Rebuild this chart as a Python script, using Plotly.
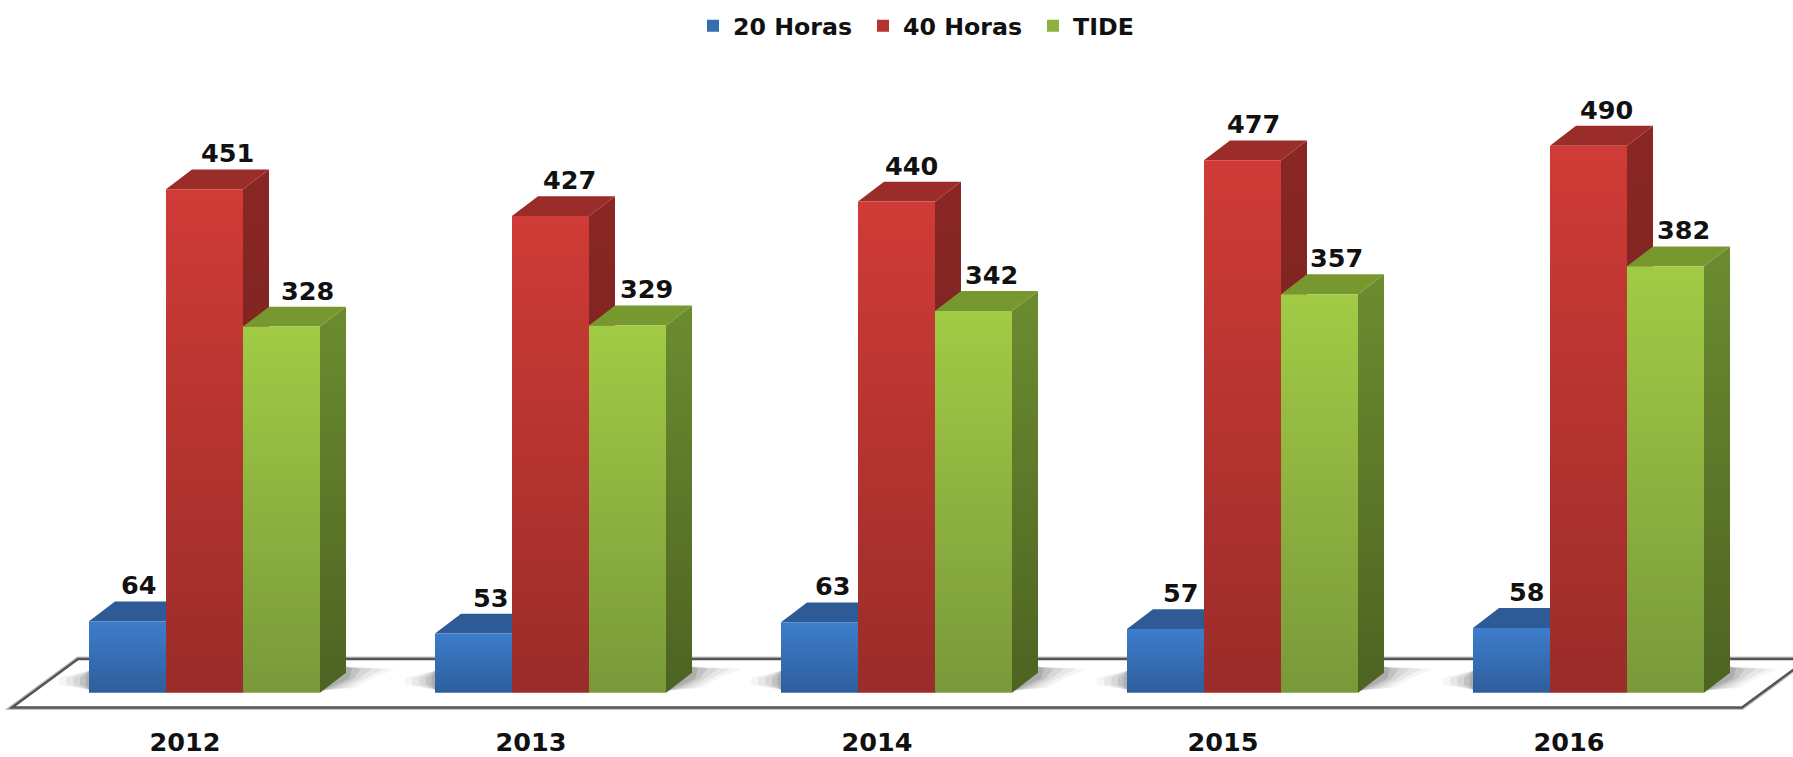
import plotly.graph_objects as go

YEARS = [2012, 2013, 2014, 2015, 2016]
SERIES_NAMES = ["20 Horas", "40 Horas", "TIDE"]
HORAS_20 = [64, 53, 63, 57, 58]
HORAS_40 = [451, 427, 440, 477, 490]
TIDE = [328, 329, 342, 357, 382]
SERIES_VALUES = [HORAS_20, HORAS_40, TIDE]

# label nudges (pixels)
LABEL_SHIFT = [
    [11, 17, 13, 15.5, 15],
    [23, 19, 15, 10.5, 18],
    [26, 18.5, 18, 17, 17.5],
]

# style
W, H = 1793, 757
PLOT_BOTTOM = 726
ZERO_PX = 697.5
PX_PER_UNIT = 1.124
BAND_PX = 346
FIRST_CENTER_PX = 185
BAR_PX = 77
BAR_LEFT_PX = [89, 166, 243]   # for the first category
DEPTH_X, DEPTH_Y = 26, 20
FONT = "DejaVu Sans"
FRONT_MID = ["#356DB2", "#B5332F", "#8DB13E"]
TOP = ["#2E5B96", "#9A2C29", "#76982F"]
SIDE_MID = ["#244A7C", "#7C2421", "#5D7929"]
GRADIENTS = {
    "#356DB2": ("#3D7DCC", "#2E5E9C"),
    "#B5332F": ("#D03B37", "#9A2C29"),
    "#8DB13E": ("#A1CB45", "#79993A"),
    "#244A7C": ("#2A5690", "#1F3F6A"),
    "#7C2421": ("#8A2724", "#6C1F1C"),
    "#5D7929": ("#6C8C30", "#4D6322"),
}


def dx(px):  # pixel offset -> x-axis units
    return px / BAND_PX


def dy(px):  # pixel offset -> y-axis units
    return px / PX_PER_UNIT


def poly(points):
    return "M" + "L".join(f"{x:.5f},{y:.3f}" for x, y in points) + "Z"


x0_year = YEARS[0] - dx(FIRST_CENTER_PX)
x1_year = YEARS[0] + dx(W - FIRST_CENTER_PX)
y0_val = -dy(PLOT_BOTTOM - ZERO_PX)
y1_val = dy(ZERO_PX)

fig = go.Figure()

offsets = [dx(left - FIRST_CENTER_PX) for left in BAR_LEFT_PX]
width = dx(BAR_PX)

for name, values, colour, off in zip(SERIES_NAMES, SERIES_VALUES, FRONT_MID, offsets):
    fig.add_trace(go.Bar(
        x=YEARS, y=values, name=name, offset=off, width=width,
        marker=dict(color=colour, line=dict(width=0)),
    ))

shapes = []

# floor
fl = YEARS[0] - dx(FIRST_CENTER_PX - 12)
fr = YEARS[0] + dx(1742 - FIRST_CENTER_PX)
front_y, back_y = dy(-15), dy(34)
floor = poly([(fl, front_y), (fr, front_y), (fr + dx(66), back_y), (fl + dx(66), back_y)])
shapes.append(dict(type="path", path=floor, xref="x", yref="y", layer="below",
                   line=dict(color="rgba(120,120,120,0.45)", width=5), fillcolor="#FFFFFF"))
shapes.append(dict(type="path", path=floor, xref="x", yref="y", layer="below",
                   line=dict(color="#555555", width=2.5), fillcolor="#FFFFFF"))

# soft floor shadows
for year in YEARS:
    left = year + offsets[0]
    right = year + offsets[2] + width
    for grow, alpha in [(50, 0.05), (38, 0.07), (26, 0.09), (15, 0.12), (6, 0.14)]:
        shapes.append(dict(
            type="path", xref="x", yref="y", layer="below", line=dict(width=0),
            fillcolor=f"rgba(50,50,50,{alpha})",
            path=poly([(right + dx(2), dy(2)), (right + dx(DEPTH_X), dy(DEPTH_Y + 6)),
                       (right + dx(DEPTH_X + grow), dy(DEPTH_Y + 4)),
                       (right + dx(DEPTH_X + grow * 0.5), dy(DEPTH_Y - 6)),
                       (right + dx(grow * 0.6 + 6), dy(5))]),
        ))
        shapes.append(dict(
            type="path", xref="x", yref="y", layer="below", line=dict(width=0),
            fillcolor=f"rgba(50,50,50,{alpha})",
            path=poly([(left, dy(3)), (left, dy(22)),
                       (left - dx(grow * 0.6), dy(15)), (left - dx(grow * 0.6), dy(8))]),
        ))

# 3-D top and side faces, built from the values, back to front per category
for s, values in enumerate(SERIES_VALUES):
    for year, v in zip(YEARS, values):
        a = year + offsets[s]
        b = a + width
        ox, oy = dx(DEPTH_X), dy(DEPTH_Y)
        shapes.append(dict(type="path", xref="x", yref="y", layer="below", line=dict(width=0),
                           fillcolor=SIDE_MID[s],
                           path=poly([(b, 0), (b + ox, oy), (b + ox, v + oy), (b, v)])))
        shapes.append(dict(type="path", xref="x", yref="y", layer="below", line=dict(width=0),
                           fillcolor=TOP[s],
                           path=poly([(a, v), (b, v), (b + ox, v + oy), (a + ox, v + oy)])))

annotations = []
for s, values in enumerate(SERIES_VALUES):
    for i, (year, v) in enumerate(zip(YEARS, values)):
        annotations.append(dict(
            x=year + offsets[s] + width / 2, y=v, xref="x", yref="y", text=str(v),
            showarrow=False, xanchor="center", yanchor="middle",
            xshift=LABEL_SHIFT[s][i], yshift=36,
            font=dict(family=FONT, size=25.5, color="#111111", weight=700),
        ))

fig.update_layout(
    width=W, height=H, autosize=False,
    margin=dict(l=0, r=0, t=0, b=H - PLOT_BOTTOM, pad=0),
    paper_bgcolor="#FFFFFF", plot_bgcolor="#FFFFFF",
    barmode="overlay",
    shapes=shapes, annotations=annotations,
    showlegend=True,
    legend=dict(
        orientation="h", x=693 / W, xanchor="left", y=1 - 26 / PLOT_BOTTOM, yanchor="middle",
        font=dict(family=FONT, size=23.7, color="#111111", weight=700),
        bgcolor="rgba(0,0,0,0)", itemclick=False, itemdoubleclick=False, traceorder="normal",
        entrywidth=125, entrywidthmode="pixels",
    ),
    xaxis=dict(
        range=[x0_year, x1_year], tickmode="array", tickvals=YEARS,
        ticktext=[str(y) for y in YEARS], showgrid=False, zeroline=False, showline=False,
        ticks="", tickfont=dict(family=FONT, size=25.5, color="#111111", weight=700),
        ticklabelstandoff=3,
    ),
    yaxis=dict(range=[y0_val, y1_val], visible=False, showgrid=False, zeroline=False),
)

# vertical gradients on the bars and side faces (solid colours remain as a fallback)
stops = ",".join(f"'{k.lower()}':['{a}','{b}']" for k, (a, b) in GRADIENTS.items())
post = """
document.body.style.margin='0';
var gd=document.getElementById('{plot_id}');
var G={%s};
function hex(c){var m=c.match(/\\d+(\\.\\d+)?/g);if(!m)return c;
 return '#'+m.slice(0,3).map(function(v){return ('0'+parseInt(v).toString(16)).slice(-2);}).join('');}
function paint(){
 var svgs=gd.querySelectorAll('svg.main-svg');if(!svgs.length)return;
 var svg=svgs[0],NS='http://www.w3.org/2000/svg';
 var defs=svg.querySelector('defs')||svg.insertBefore(document.createElementNS(NS,'defs'),svg.firstChild);
 Object.keys(G).forEach(function(k){
  var id='grad'+k.slice(1);
  if(document.getElementById(id))return;
  var g=document.createElementNS(NS,'linearGradient');
  g.setAttribute('id',id);g.setAttribute('x1','0');g.setAttribute('y1','0');g.setAttribute('x2','0');g.setAttribute('y2','1');
  [[0,G[k][0]],[1,G[k][1]]].forEach(function(s){var e=document.createElementNS(NS,'stop');
   e.setAttribute('offset',s[0]);e.setAttribute('stop-color',s[1]);g.appendChild(e);});
  defs.appendChild(g);
 });
 gd.querySelectorAll('.bars .point path, .legendbar, .shapelayer path').forEach(function(p){
  var f=p.getAttribute('data-basefill')||hex(p.style.fill||'');
  if(G[f]){p.setAttribute('data-basefill',f);p.style.setProperty('fill','url(#grad'+f.slice(1)+')');}
 });
}
paint();
if(gd.on)gd.on('plotly_afterplot',paint);
""" % stops

fig.write_html("out.html", post_script=post, config={"displayModeBar": False})
